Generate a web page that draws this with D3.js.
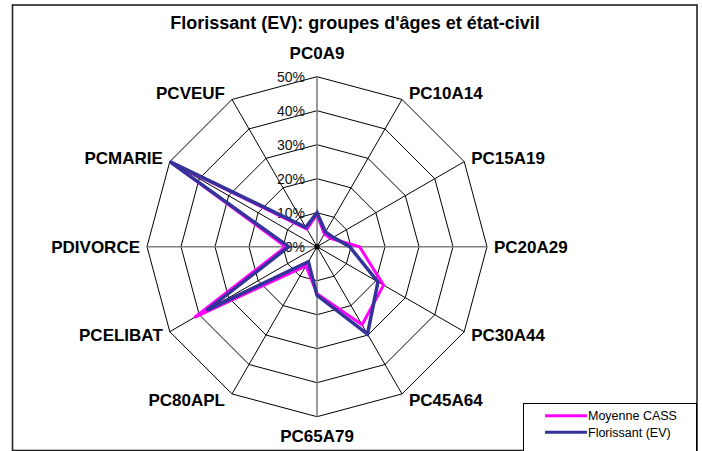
<!DOCTYPE html>
<html>
<head>
<meta charset="utf-8">
<script src="https://cdn.jsdelivr.net/npm/d3@7"></script>
<style>
  html, body { margin: 0; padding: 0; background: #fff; }
  svg { display: block; }
  text { font-family: "Liberation Sans", Arial, sans-serif; }
</style>
</head>
<body>
<svg id="chart" width="702" height="451"></svg>
<script>
// Age groups and civil status, percent of population
const categories = ["PC0A9", "PC10A14", "PC15A19", "PC20A29", "PC30A44", "PC45A64",
                    "PC65A79", "PC80APL", "PCELIBAT", "PDIVORCE", "PCMARIE", "PCVEUF"];
const moyenneCASS = [9.5, 4.3, 4.8, 12.5, 22.6, 26.5, 13.8, 6.5, 41.6, 9.2, 49.5, 6.0];
const florissant  = [10.0, 5.0, 5.5, 9.6, 20.7, 29.7, 14.3, 5.1, 37.5, 8.3, 50.0, 6.6];
const tickValues = [0, 10, 20, 30, 40, 50];
const seriesNames = ["Moyenne CASS", "Florissant (EV)"];
const seriesColors = ["#FF00FF", "#333399"];

const svg = d3.select("#chart");
const cx = 317, cy = 246.7, R = 170;

const r = d3.scaleLinear().domain([0, 50]).range([0, R]);
const angle = d3.scalePoint().domain(categories).range([0, 2 * Math.PI * (categories.length) / categories.length]);
const step = 2 * Math.PI / categories.length;
const ang = c => categories.indexOf(c) * step;

const g = svg.append("g").attr("transform", `translate(${cx},${cy})`);

// outer frame
svg.append("rect")
  .attr("x", 12.5).attr("y", 5).attr("width", 684.5).attr("height", 445.5)
  .attr("fill", "none").attr("stroke", "#222").attr("stroke-width", 1.6);

// title
svg.append("text")
  .attr("x", 355).attr("y", 28.5)
  .attr("text-anchor", "middle")
  .attr("font-size", 18).attr("font-weight", "bold")
  .text("Florissant (EV): groupes d'âges et état-civil");

// rings
const ringLine = d3.lineRadial().angle(d => d[0]).radius(d => d[1]).curve(d3.curveLinearClosed);
tickValues.filter(v => v > 0).forEach(v => {
  g.append("path")
    .attr("d", ringLine(categories.map(c => [ang(c), r(v)])))
    .attr("fill", "none").attr("stroke", "#000").attr("stroke-width", 1);
});

// spokes
categories.forEach(c => {
  const a = ang(c);
  const main = Math.abs(Math.sin(a)) < 1e-6 || Math.abs(Math.cos(a)) < 1e-6;
  g.append("line")
    .attr("x1", 0).attr("y1", 0)
    .attr("x2", r(50) * Math.sin(a)).attr("y2", -r(50) * Math.cos(a))
    .attr("stroke", main ? "#808080" : "#000")
    .attr("stroke-width", main ? 1.6 : 1);
});
g.append("circle").attr("r", 2.6).attr("fill", "#000");

// value axis labels
tickValues.forEach(v => {
  g.append("text")
    .attr("x", -12).attr("y", -r(v))
    .attr("dy", "0.35em")
    .attr("text-anchor", "end")
    .attr("font-size", 14)
    .attr("fill", "#111")
    .text(v + "%");
});

// category labels
categories.forEach(c => {
  const a = ang(c);
  const s = Math.sin(a), co = Math.cos(a);
  let x = R * s, y = -R * co, anchor;
  if (Math.abs(s) < 1e-6) {
    anchor = "middle";
    y += co > 0 ? -24 : 19;
  } else {
    anchor = s > 0 ? "start" : "end";
    x += s > 0 ? 7 : -7;
    y += -7 * co;
  }
  g.append("text")
    .attr("x", x).attr("y", y).attr("dy", "0.35em")
    .attr("text-anchor", anchor)
    .attr("font-size", 17).attr("font-weight", "bold")
    .text(c);
});

// series
const seriesLine = d3.lineRadial()
  .angle((d, i) => i * step)
  .radius(d => r(d))
  .curve(d3.curveLinearClosed);

[moyenneCASS, florissant].forEach((vals, i) => {
  g.append("path")
    .attr("d", seriesLine(vals))
    .attr("fill", "none")
    .attr("stroke", seriesColors[i])
    .attr("stroke-width", i === 0 ? 3 : 3.5)
    .attr("stroke-linejoin", "miter");
});

// legend
const lg = svg.append("g");
lg.append("rect")
  .attr("x", 523.5).attr("y", 403.5).attr("width", 173).attr("height", 50)
  .attr("fill", "#fff").attr("stroke", "#000").attr("stroke-width", 1);
seriesNames.forEach((name, i) => {
  const y = 415.7 + i * 16.6;
  lg.append("line")
    .attr("x1", 545).attr("x2", 587).attr("y1", y).attr("y2", y)
    .attr("stroke", seriesColors[i]).attr("stroke-width", 3);
  lg.append("text")
    .attr("x", 588).attr("y", y).attr("dy", "0.35em")
    .attr("font-size", 12.5)
    .text(name);
});
</script>
</body>
</html>
